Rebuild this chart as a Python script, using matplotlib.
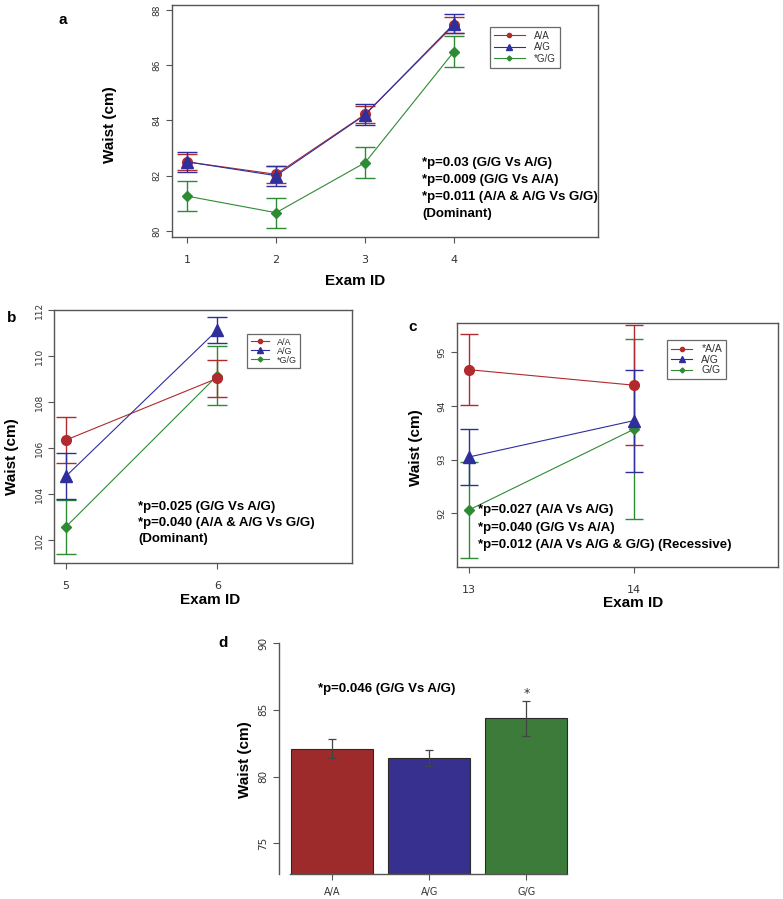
import matplotlib
matplotlib.use("Agg")
import matplotlib.pyplot as plt
from matplotlib.lines import Line2D

# waist by genotype
genotypes = ["A/A", "A/G", "G/G"]

exam_a = [1, 2, 3, 4]
aa_a = [82.5, 82.05, 84.22, 87.45]
aa_a_err = [0.3, 0.3, 0.3, 0.3]
ag_a = [82.5, 82.0, 84.2, 87.5]
ag_a_err = [0.36, 0.36, 0.38, 0.35]
gg_a = [81.26, 80.66, 82.47, 86.49]
gg_a_err = [0.53, 0.54, 0.57, 0.55]

exam_b = [5, 6]
aa_b = [106.35, 109.03]
aa_b_err = [1.0, 0.8]
ag_b = [104.78, 111.13]
ag_b_err = [1.0, 0.55]
gg_b = [102.58, 109.15]
gg_b_err = [1.17, 1.3]

exam_c = [13, 14]
aa_c = [94.68, 94.39]
aa_c_err = [0.66, 1.12]
ag_c = [93.05, 93.73]
ag_c_err = [0.52, 0.95]
gg_c = [92.06, 93.57]
gg_c_err = [0.89, 1.68]

mean_d = [82.08, 81.4, 84.35]
err_d = [0.7, 0.6, 1.3]

W, H = 783, 899
RED = "#b02a2e"
BLUE = "#2e2e9c"
GREEN = "#2f8a34"
BAR_COLORS = ["#9e2b2b", "#37308f", "#3d7b3a"]
BOLD = ["Liberation Sans", "DejaVu Sans"]

fig = plt.figure(figsize=(W / 100, H / 100), dpi=100)


def fx(px):
    return px / W


def fy(py):
    return 1 - py / H


def px_axes(l, t, r, b):
    return fig.add_axes([fx(l), fy(b), fx(r) - fx(l), fy(t) - fy(b)])


def style_frame(ax):
    for s in ax.spines.values():
        s.set_color("#555555")
        s.set_linewidth(1)
    ax.tick_params(axis="both", colors="#555555", labelcolor="#333333", length=4)
    ax.tick_params(axis="y", labelrotation=90, labelsize=6.5)
    ax.tick_params(axis="x", labelsize=8, pad=9)
    for lab in ax.get_yticklabels():
        lab.set_va("center")


def draw_series(ax, x, series, cap):
    # series: list of (values, errors, colour, marker, size)
    for y, e, c, m, ms in series:
        ax.errorbar(x, y, yerr=e, color=c, marker=m, ms=ms, lw=0.8,
                    elinewidth=1.0, capsize=cap, capthick=1.0)


def legend(ax, labels, l, t, fs, hl, ls):
    handles = [Line2D([0], [0], color=RED, marker="o", ms=3, lw=0.8),
               Line2D([0], [0], color=BLUE, marker="^", ms=4, lw=0.8),
               Line2D([0], [0], color=GREEN, marker="D", ms=2.5, lw=0.8)]
    lg = ax.legend(handles, labels, loc="upper left",
                   bbox_to_anchor=(fx(l), fy(t)), bbox_transform=fig.transFigure,
                   frameon=True, fancybox=False, handlelength=hl,
                   handletextpad=0.9, borderpad=0.4, labelspacing=ls,
                   borderaxespad=0, prop={"family": BOLD[0], "size": fs})
    lg.get_frame().set_edgecolor("#444444")
    lg.get_frame().set_linewidth(0.9)
    for t_ in lg.get_texts():
        t_.set_color("#333333")


def ylab(x, y):
    fig.text(fx(x), fy(y), "Waist (cm)", rotation=90, ha="center", va="center",
             fontsize=11, fontweight="bold", family=BOLD)


def xlab(x, y):
    fig.text(fx(x), fy(y), "Exam ID", ha="center", va="center",
             fontsize=11, fontweight="bold", family=BOLD)


def note(x, y, lines, step):
    for i, s in enumerate(lines):
        fig.text(fx(x), fy(y + i * step), s, ha="left", va="center",
                 fontsize=9.5, fontweight="bold", family=BOLD)


# ---- a ----
ax = px_axes(172, 5, 598, 237)
draw_series(ax, exam_a, [(gg_a, gg_a_err, GREEN, "D", 5.5),
                         (aa_a, aa_a_err, RED, "o", 7),
                         (ag_a, ag_a_err, BLUE, "^", 9)], 7)
ax.set_xlim(0.83, 5.62)
ax.set_ylim(79.78, 88.18)
ax.set_xticks(exam_a)
ax.set_yticks([80, 82, 84, 86, 88])
style_frame(ax)
legend(ax, ["A/A", "A/G", "*G/G"], 490, 27, 7, 3.2, 0.15)
fig.text(fx(63), fy(20), "a", fontsize=11, fontweight="bold", family=BOLD,
         ha="center", va="center")
ylab(110, 125)
xlab(355, 281)
note(422, 163, ["*p=0.03 (G/G Vs A/G)", "*p=0.009 (G/G Vs A/A)",
                "*p=0.011 (A/A & A/G Vs G/G)", "(Dominant)"], 17)

# ---- b ----
ax = px_axes(54, 310, 352, 563)
draw_series(ax, exam_b, [(gg_b, gg_b_err, GREEN, "D", 5.5),
                         (aa_b, aa_b_err, RED, "o", 7),
                         (ag_b, ag_b_err, BLUE, "^", 9)], 7)
ax.set_xlim(4.92, 6.89)
ax.set_ylim(101.0, 112.0)
ax.set_xticks(exam_b)
ax.set_yticks([102, 104, 106, 108, 110, 112])
style_frame(ax)
legend(ax, ["A/A", "A/G", "*G/G"], 247, 334, 6.5, 2.0, 0.0)
fig.text(fx(12), fy(318), "b", fontsize=11, fontweight="bold", family=BOLD,
         ha="center", va="center")
ylab(12, 457)
xlab(210, 600)
note(138, 507, ["*p=0.025 (G/G Vs A/G)", "*p=0.040 (A/A & A/G Vs G/G)",
                "(Dominant)"], 16)

# ---- c ----
ax = px_axes(457, 323, 778, 567)
draw_series(ax, exam_c, [(gg_c, gg_c_err, GREEN, "D", 5.5),
                         (aa_c, aa_c_err, RED, "o", 7),
                         (ag_c, ag_c_err, BLUE, "^", 9)], 6.5)
ax.set_xlim(12.93, 14.87)
ax.set_ylim(91.0, 95.55)
ax.set_xticks(exam_c)
ax.set_yticks([92, 93, 94, 95])
style_frame(ax)
legend(ax, ["*A/A", "A/G", "G/G"], 667, 340, 7.5, 2.0, 0.05)
fig.text(fx(413), fy(327), "c", fontsize=11, fontweight="bold", family=BOLD,
         ha="center", va="center")
ylab(416, 448)
xlab(633, 603)
note(478, 510, ["*p=0.027 (A/A Vs A/G)", "*p=0.040 (G/G Vs A/A)",
                "*p=0.012 (A/A Vs A/G & G/G) (Recessive)"], 17.5)

# ---- d ----
ax = px_axes(279, 643, 570, 874)
pos = list(range(len(genotypes)))
ax.bar(pos, mean_d, width=0.845, color=BAR_COLORS, edgecolor="#2a2a2a",
       linewidth=0.8, yerr=err_d, ecolor="#444444",
       error_kw=dict(elinewidth=0.9, capsize=3, capthick=0.9))
ax.set_xlim(-0.546, 2.45)
ax.set_ylim(72.7, 90)
ax.set_xticks(pos)
ax.set_xticklabels(genotypes)
ax.set_yticks([75, 80, 85, 90])
for s in ["top", "right"]:
    ax.spines[s].set_visible(False)
ax.spines["bottom"].set_bounds(-0.43, 2.42)
style_frame(ax)
ax.tick_params(axis="x", labelsize=7, pad=5)
ax.tick_params(axis="y", labelsize=7.5)
ax.text(2, 85.7, "*", ha="center", va="bottom", fontsize=9, color="#333333")
fig.text(fx(223), fy(643), "d", fontsize=11, fontweight="bold", family=BOLD,
         ha="center", va="center")
ylab(245, 760)
note(318, 689, ["*p=0.046 (G/G Vs A/G)"], 0)

fig.savefig("out.png", dpi=100)
